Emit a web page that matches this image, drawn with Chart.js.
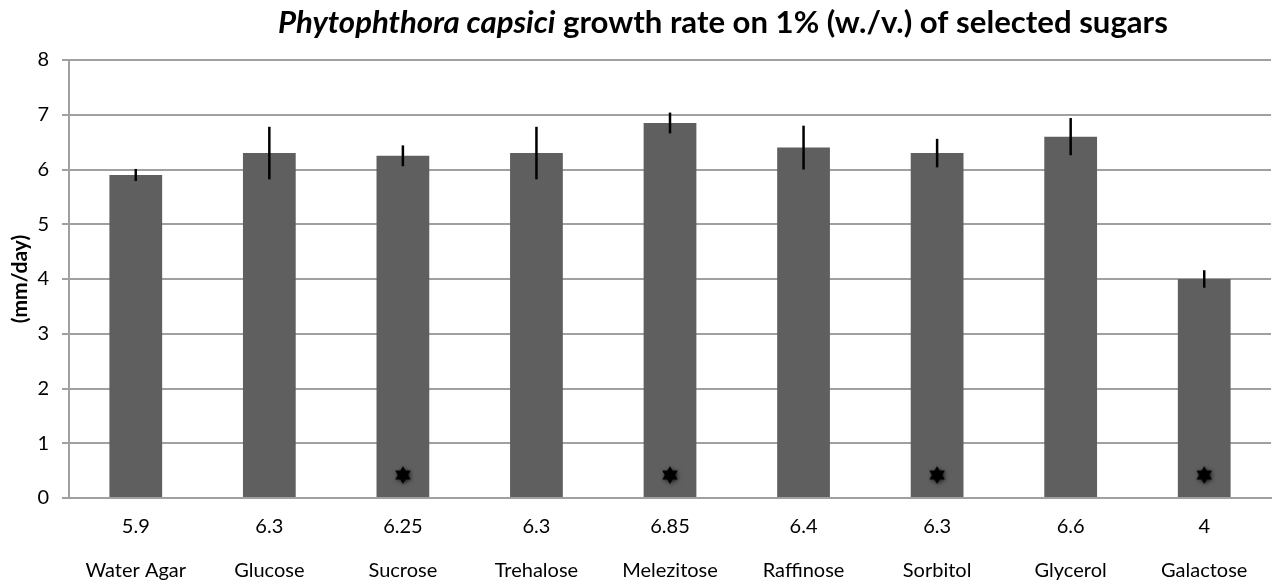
<!DOCTYPE html>
<html>
<head>
<meta charset="utf-8">
<title>Phytophthora capsici growth rate</title>
<script src="https://cdn.jsdelivr.net/npm/chart.js@4.4.1/dist/chart.umd.min.js"></script>
<style>
  html, body { margin: 0; padding: 0; overflow: hidden; background: #fff; }
  canvas { display: block; }
</style>
</head>
<body>
<canvas id="myChart" width="1281" height="582" style="width:1281px;height:582px"></canvas>
<script>
// data
const sugars = ["Water Agar", "Glucose", "Sucrose", "Trehalose", "Melezitose", "Raffinose", "Sorbitol", "Glycerol", "Galactose"];
const rates = [5.9, 6.3, 6.25, 6.3, 6.85, 6.4, 6.3, 6.6, 4];
const rateLabels = ["5.9", "6.3", "6.25", "6.3", "6.85", "6.4", "6.3", "6.6", "4"];
const errors = [0.11, 0.48, 0.19, 0.48, 0.19, 0.4, 0.26, 0.34, 0.16];
const starred = [false, false, true, false, true, false, true, false, true];
const starLevel = 0.42;
const yMin = 0, yMax = 8, yStep = 1;

const FONT = "Lato, 'Open Sans', sans-serif";

// little six pointed star used as the point image
function makeStar() {
  let c = document.createElement("canvas");
  c.width = 30;
  c.height = 30;
  let ctx = c.getContext("2d");
  ctx.shadowColor = "rgba(0,0,0,0.55)";
  ctx.shadowBlur = 4;
  ctx.shadowOffsetX = 1;
  ctx.shadowOffsetY = 1;
  ctx.fillStyle = "#000";
  let r = 9;
  for (let t = 0; t < 2; t++) {
    ctx.beginPath();
    for (let k = 0; k < 3; k++) {
      let a = -Math.PI / 2 + t * Math.PI + k * 2 * Math.PI / 3;
      let px = 15 + r * Math.cos(a), py = 15 + r * Math.sin(a);
      if (k === 0) ctx.moveTo(px, py); else ctx.lineTo(px, py);
    }
    ctx.closePath();
    ctx.fill();
  }
  return c;
}

const starData = starred.map(s => (s ? starLevel : null));

const errorBars = {
  id: "errorBars",
  afterDatasetsDraw(chart) {
    let ctx = chart.ctx;
    let meta = chart.getDatasetMeta(0);
    let y = chart.scales.y;
    ctx.save();
    ctx.strokeStyle = "#000";
    ctx.lineWidth = 2.5;
    meta.data.forEach((bar, i) => {
      ctx.beginPath();
      ctx.moveTo(bar.x, y.getPixelForValue(rates[i] + errors[i]));
      ctx.lineTo(bar.x, y.getPixelForValue(rates[i] - errors[i]));
      ctx.stroke();
    });
    ctx.restore();
  }
};

// title with the italic species name
const mixedTitle = {
  id: "mixedTitle",
  afterDraw(chart) {
    let ctx = chart.ctx;
    let parts = [
      { t: "Phytophthora capsici", style: "italic bold " },
      { t: " growth rate on 1% (w./v.) of selected sugars", style: "bold " }
    ];
    let size = 28;
    let total = 0;
    parts.forEach(p => {
      ctx.font = p.style + size + "px " + FONT;
      total += ctx.measureText(p.t).width;
    });
    // squeeze to the width seen in the reference
    let target = 890;
    size = size * target / total;
    total = 0;
    parts.forEach(p => {
      ctx.font = p.style + size.toFixed(2) + "px " + FONT;
      p.w = ctx.measureText(p.t).width;
      total += p.w;
    });
    let x = 723 - total / 2;
    ctx.save();
    ctx.fillStyle = "#000";
    ctx.textBaseline = "alphabetic";
    parts.forEach(p => {
      ctx.font = p.style + size.toFixed(2) + "px " + FONT;
      ctx.fillText(p.t, x, 33);
      x += p.w;
    });
    ctx.restore();
  }
};

new Chart(document.getElementById("myChart"), {
  data: {
    labels: sugars,
    datasets: [
      {
        type: "bar",
        data: rates,
        backgroundColor: "#5f5f5f",
        borderWidth: 0,
        categoryPercentage: 1,
        barPercentage: 0.395,
        order: 2
      },
      {
        type: "line",
        data: starData,
        showLine: false,
        pointStyle: makeStar(),
        pointRadius: 9,
        order: 1
      }
    ]
  },
  options: {
    responsive: false,
    animation: false,
    layout: { padding: { top: 60, right: 0, left: 0, bottom: 0 } },
    plugins: {
      legend: { display: false },
      tooltip: { enabled: false },
      title: { display: false }
    },
    scales: {
      x: {
        offset: true,
        grid: { display: false, drawTicks: false },
        border: { display: true, color: "#a0a0a0", width: 2 },
        ticks: {
          color: "#000",
          font: { family: FONT, size: 20, lineHeight: 2.2 },
          padding: 7,
          maxRotation: 0,
          autoSkip: false,
          callback: function (val, i) {
            return [rateLabels[i], sugars[i]];
          }
        },
        afterFit(scale) { scale.height = 84; }
      },
      y: {
        min: yMin,
        max: yMax,
        ticks: {
          stepSize: yStep,
          color: "#000",
          font: { family: FONT, size: 20 },
          padding: 13
        },
        grid: { color: "#a0a0a0", lineWidth: 2, tickLength: 7 },
        border: { display: true, color: "#a0a0a0", width: 2 },
        title: {
          display: true,
          text: "(mm/day)",
          color: "#000",
          font: { family: FONT, size: 21, weight: "bold", lineHeight: 1.1 },
          padding: { top: 9, bottom: 0 }
        },
        afterFit(scale) { scale.width = 69; }
      }
    }
  },
  plugins: [errorBars, mixedTitle]
});
</script>
</body>
</html>
